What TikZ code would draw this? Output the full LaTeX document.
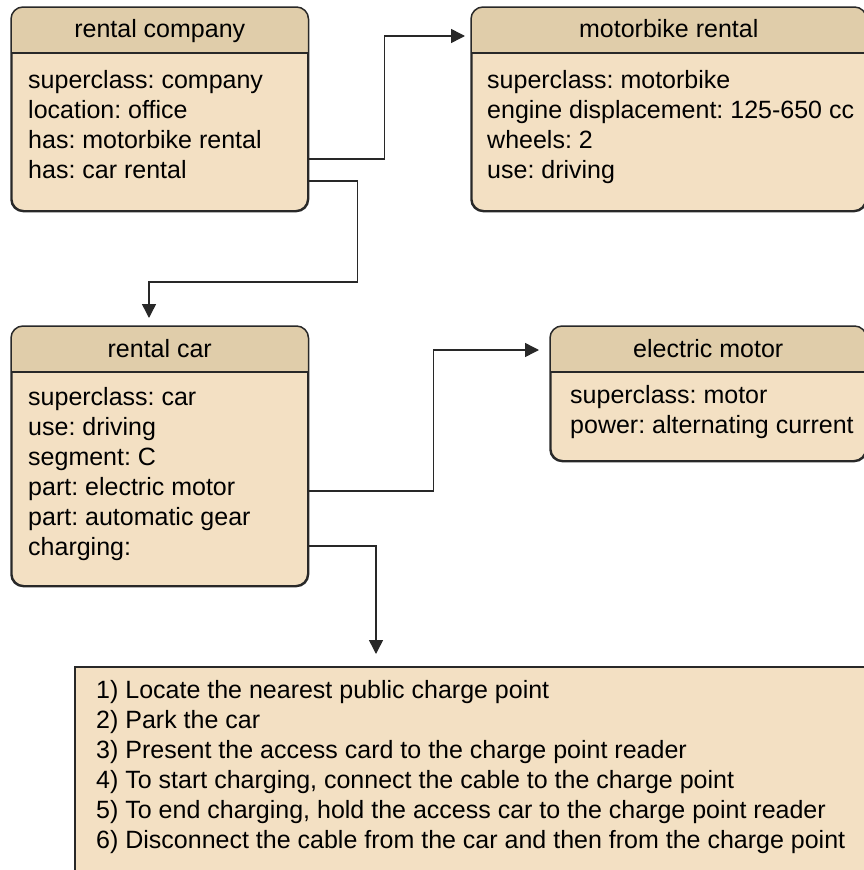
\documentclass[tikz,border=0pt]{standalone}
\usepackage{fontspec}
\setmainfont{Liberation Sans}
\frenchspacing
\usetikzlibrary{arrows.meta,positioning}

\definecolor{hdrfill}{RGB}{224,205,170}
\definecolor{bodyfill}{RGB}{243,224,195}
\definecolor{edge}{RGB}{40,40,40}

\tikzset{
  classbox/.style={draw=edge, line width=1.5pt, fill=bodyfill, rounded corners=12pt,
    anchor=north west, inner sep=0pt},
  stepsbox/.style={draw=edge, line width=1.5pt, fill=bodyfill,
    anchor=north west, inner sep=0pt},
  title/.style={font=\fontsize{25}{30}\selectfont, inner sep=0pt, anchor=base},
  attrs/.style={font=\fontsize{25}{30}\selectfont, align=left, inner sep=0pt, anchor=north west},
  arr/.style={draw=edge, line width=1.5pt, -{Triangle[length=14pt,width=14pt]}},
}

\begin{document}
\begin{tikzpicture}[x=1pt,y=-1pt]
    \useasboundingbox (0,0) rectangle (864,870);

    % Les boîtes
    \node[classbox, minimum width=296, minimum height=203] (rc) at (11,7) {};
    \node[classbox, minimum width=394, minimum height=203] (mb) at (471,7) {};
    \node[classbox, minimum width=296, minimum height=259] (rcar) at (11,326) {};
    \node[classbox, minimum width=315, minimum height=134] (em) at (550,326) {};
    \node[stepsbox, minimum width=820, minimum height=230] (steps) at (74,666) {};

    % En-têtes
    \foreach \b in {rc,mb,rcar,em} {
        \fill[hdrfill] ([yshift=-46]\b.north west)
            {[rounded corners=12pt] -- (\b.north west) -- (\b.north east)}
            -- ([yshift=-46]\b.north east) -- cycle;
        \draw[edge, line width=1.5pt, rounded corners=12pt]
            (\b.north west) rectangle (\b.south east);
        \draw[edge, line width=1.5pt]
            ([yshift=-46]\b.north west) -- ([yshift=-46]\b.north east);
    }

    % Titres
    \node[title] (rc-t) at ([yshift=-30]rc.north) {rental company};
    \node[title] (mb-t) at ([yshift=-30]mb.north) {motorbike rental};
    \node[title] (rcar-t) at ([yshift=-31]rcar.north) {rental car};
    \node[title] (em-t) at ([yshift=-31]em.north) {electric motor};

    % Attributs
    \node[attrs] (rc-a) at ([xshift=17,yshift=-63]rc.north west) {
        superclass: company\\
        location: office\\
        has: motorbike rental\\
        has: car rental};
    \node[attrs] (mb-a) at ([xshift=16,yshift=-63]mb.north west) {
        superclass: motorbike\\
        engine displacement: 125-650 cc\\
        wheels: 2\\
        use: driving};
    \node[attrs] (rcar-a) at ([xshift=17,yshift=-61]rcar.north west) {
        superclass: car\\
        use: driving\\
        segment: C\\
        part: electric motor\\
        part: automatic gear\\
        charging:};
    \node[attrs] (em-a) at ([xshift=20,yshift=-59]em.north west) {
        superclass: motor\\
        power: alternating current};
    \node[attrs] (steps-a) at ([xshift=22,yshift=-14]steps.north west) {
        1) Locate the nearest public charge point\\
        2) Park the car\\
        3) Present the access card to the charge point reader\\
        4) To start charging, connect the cable to the charge point\\
        5) To end charging, hold the access car to the charge point reader\\
        6) Disconnect the cable from the car and then from the charge point};

    % Liens
    \draw[arr, shorten >=6pt] ([yshift=-152]rc.north east) -- ++(76,0)
        |- ([yshift=-29]mb.north west);
    \draw[arr, shorten >=8pt] ([yshift=-174]rc.north east) -- ++(49,0) -- ++(0,101)
        -| ([xshift=138]rcar.north west);
    \draw[arr, shorten >=11pt] ([yshift=-165]rcar.north east) -- ++(125,0)
        |- ([yshift=-24]em.north west);
    \draw[arr, shorten >=12pt] ([yshift=-220]rcar.north east)
        -| ([xshift=302]steps.north west);
\end{tikzpicture}
\end{document}
